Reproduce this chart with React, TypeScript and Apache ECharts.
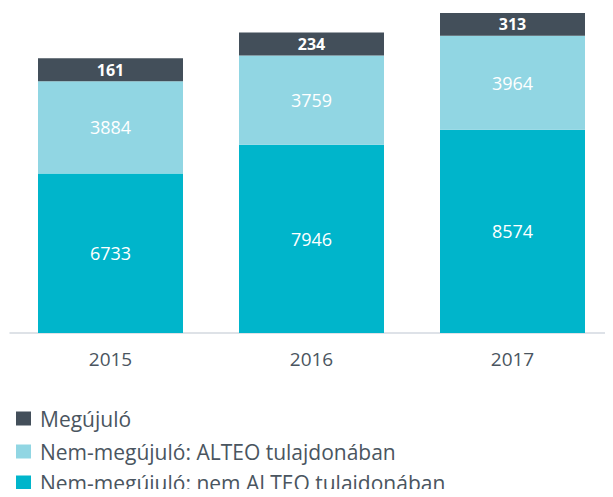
import React, { useEffect, useRef } from "react";
import * as echarts from "echarts";

const years = ["2015", "2016", "2017"];
const nemAlteo = [6733, 7946, 8574];
const alteo = [3884, 3759, 3964];
const megujulo = [161, 234, 313];
const seriesNames = [
  "Megújuló",
  "Nem-megújuló: ALTEO tulajdonában",
  "Nem-megújuló: nem ALTEO tulajdonában",
];
const legendTops = [408, 441, 472];

export default function App() {
  const ref = useRef<HTMLDivElement>(null);
  useEffect(() => {
    const chart = echarts.init(ref.current!, null, { renderer: "svg" });
    const font = "'Open Sans', sans-serif";
    chart.setOption({
      animation: false,
      textStyle: { fontFamily: font },
      grid: { left: 10, right: -4, top: 13, bottom: 164 },
      legend: seriesNames.map((n, i) => ({
        orient: "vertical",
        left: 16,
        top: legendTops[i],
        padding: 0,
        itemWidth: 15,
        itemHeight: 14,
        icon: "rect",
        data: [n],
        textStyle: { fontSize: 21, color: "#4a5560", fontFamily: font, padding: [0, 0, 0, 4] },
      })),
      xAxis: {
        type: "category",
        data: years,
        axisLine: { show: true, lineStyle: { color: "#d3d9e0", width: 1.5 } },
        axisTick: { show: false },
        axisLabel: { fontSize: 19, color: "#4a5560", margin: 16, fontFamily: font },
      },
      yAxis: {
        type: "value",
        min: 0,
        max: 13500,
        show: false,
        splitLine: { show: false },
      },
      series: [
        {
          name: seriesNames[2],
          type: "bar",
          stack: "total",
          barWidth: 145,
          data: nemAlteo,
          itemStyle: { color: "#00b5cb" },
          label: { show: true, position: "inside", color: "#fff", fontSize: 18, fontFamily: font },
        },
        {
          name: seriesNames[1],
          type: "bar",
          stack: "total",
          barWidth: 145,
          data: alteo,
          itemStyle: { color: "#91d6e3" },
          label: { show: true, position: "inside", color: "#fff", fontSize: 18, fontFamily: font },
        },
        {
          name: seriesNames[0],
          type: "bar",
          stack: "total",
          barWidth: 145,
          barMinHeight: 23,
          data: megujulo,
          itemStyle: { color: "#434f5a" },
          label: { show: true, position: "inside", color: "#fff", fontSize: 16, fontWeight: "bold", fontFamily: font },
        },
      ],
    });
    return () => chart.dispose();
  }, []);
  return <div ref={ref} style={{ width: 613, height: 497, margin: -8 }} />;
}
